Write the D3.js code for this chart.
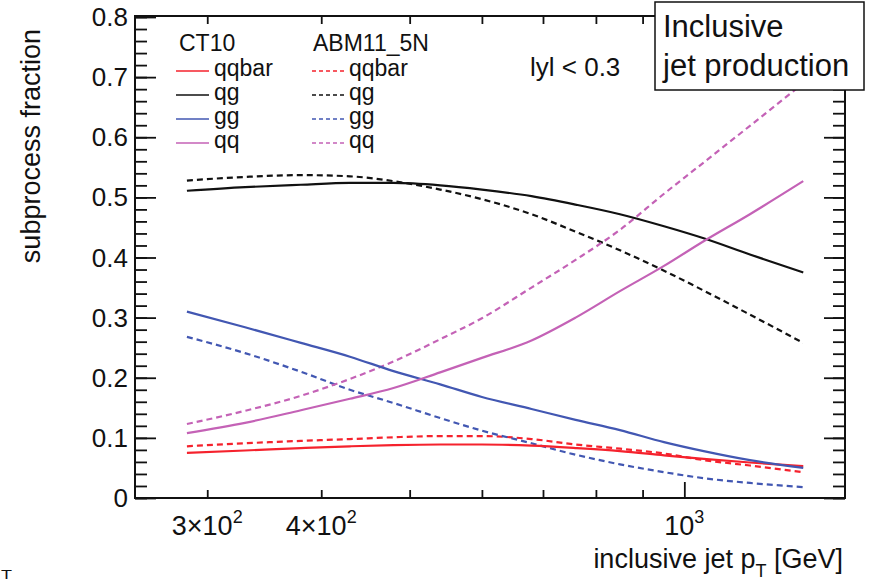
<!doctype html>
<html>
  <head>
    <script src="https://d3js.org/d3.v7.min.js"></script>
    <style>
      body { margin: 0; background: white; }
      text { font-family: "Liberation Sans", Arial, sans-serif; fill: #111; }
    </style>
  </head>

  <body onload='init()'>
    <svg class="chart" width=870 height=584></svg>

    <script>
        // transverse momentum grid (GeV)
        var ptGeV = [285, 330, 380, 430, 480, 540, 600, 680, 760, 850, 950, 1050, 1180, 1350];

        // CT10 (solid)
        var ct10Qqbar = [0.075, 0.079, 0.083, 0.086, 0.088, 0.089, 0.089, 0.087, 0.083, 0.078, 0.071, 0.065, 0.059, 0.053];
        var ct10Qg    = [0.511, 0.517, 0.521, 0.524, 0.524, 0.520, 0.513, 0.502, 0.488, 0.472, 0.452, 0.432, 0.405, 0.375];
        var ct10Gg    = [0.310, 0.284, 0.258, 0.235, 0.211, 0.189, 0.168, 0.148, 0.130, 0.113, 0.093, 0.078, 0.063, 0.050];
        var ct10Qq    = [0.108, 0.125, 0.146, 0.165, 0.183, 0.209, 0.233, 0.262, 0.300, 0.344, 0.386, 0.427, 0.472, 0.527];

        // ABM11_5N (dashed)
        var abmQqbar = [0.086, 0.091, 0.095, 0.098, 0.101, 0.103, 0.103, 0.098, 0.089, 0.082, 0.074, 0.063, 0.054, 0.043];
        var abmQg    = [0.528, 0.534, 0.537, 0.535, 0.527, 0.513, 0.497, 0.472, 0.443, 0.412, 0.378, 0.345, 0.305, 0.258];
        var abmGg    = [0.268, 0.241, 0.210, 0.180, 0.158, 0.133, 0.112, 0.091, 0.072, 0.056, 0.043, 0.033, 0.025, 0.018];
        var abmQq    = [0.123, 0.145, 0.170, 0.198, 0.227, 0.264, 0.299, 0.350, 0.396, 0.446, 0.506, 0.558, 0.619, 0.690];

        var channels = ["qqbar", "qg", "gg", "qq"];
        var channelColors = ["#f5222d", "#111111", "#4257b2", "#c462b6"];

        // axis ticks
        var yMajorTicks = [0, 0.1, 0.2, 0.3, 0.4, 0.5, 0.6, 0.7, 0.8];
        var yTickLabels = ["0", "0.1", "0.2", "0.3", "0.4", "0.5", "0.6", "0.7", "0.8"];
        var xMinorTicks = [300, 400, 500, 600, 700, 800, 900];
        var xMajorTicks = [1000];
        var xLabelValues = [300, 400, 1000];
        var xLabelBase = ["3\u00d710", "4\u00d710", "10"];
        var xLabelExp = ["2", "2", "3"];

        function init() {
            var svg = d3.select("svg");
            svg.selectAll("*").remove();

            var left = 135, right = 845, top = 16, bottom = 498;
            var xScale = d3.scaleLog().domain([250, 1500]).range([left, right]);
            var yScale = d3.scaleLinear().domain([0, 0.8]).range([bottom, top + 1]);

            svg.append("clipPath").attr("id", "frame-clip")
                .append("rect").attr("x", left).attr("y", top)
                .attr("width", right - left).attr("height", bottom - top);

            // curves
            var line = function(vals) {
                return d3.line()
                    .x(function(d, i){ return xScale(ptGeV[i]); })
                    .y(function(d){ return yScale(d); })
                    .curve(d3.curveMonotoneX)(vals);
            };
            var curves = svg.append("g").attr("clip-path", "url(#frame-clip)");
            var ct10 = [ct10Qqbar, ct10Qg, ct10Gg, ct10Qq];
            var abm = [abmQqbar, abmQg, abmGg, abmQq];
            abm.forEach(function(vals, i) {
                curves.append("path").attr("d", line(vals))
                    .attr("fill", "none").attr("stroke", channelColors[i])
                    .attr("stroke-width", 2.2).attr("stroke-dasharray", "6,4");
            });
            ct10.forEach(function(vals, i) {
                curves.append("path").attr("d", line(vals))
                    .attr("fill", "none").attr("stroke", channelColors[i])
                    .attr("stroke-width", 2.2);
            });

            // y axis, left and right
            svg.append("g").attr("transform", "translate(" + left + ",0)")
                .call(d3.axisRight(yScale).tickValues(yMajorTicks).tickSize(21).tickFormat(""));
            svg.append("g").attr("transform", "translate(" + left + ",0)")
                .call(d3.axisRight(yScale).ticks(40).tickSize(12).tickFormat(""));
            svg.append("g").attr("transform", "translate(" + right + ",0)")
                .call(d3.axisLeft(yScale).tickValues(yMajorTicks).tickSize(21).tickFormat(""));
            svg.append("g").attr("transform", "translate(" + right + ",0)")
                .call(d3.axisLeft(yScale).ticks(40).tickSize(12).tickFormat(""));

            // x axis, bottom and top
            svg.append("g").attr("transform", "translate(0," + bottom + ")")
                .call(d3.axisTop(xScale).tickValues(xMinorTicks).tickSize(8).tickFormat(""));
            svg.append("g").attr("transform", "translate(0," + bottom + ")")
                .call(d3.axisTop(xScale).tickValues(xMajorTicks).tickSize(16).tickFormat(""));
            svg.append("g").attr("transform", "translate(0," + top + ")")
                .call(d3.axisBottom(xScale).tickValues(xMinorTicks).tickSize(8).tickFormat(""));
            svg.append("g").attr("transform", "translate(0," + top + ")")
                .call(d3.axisBottom(xScale).tickValues(xMajorTicks).tickSize(16).tickFormat(""));

            svg.selectAll(".domain").remove();
            svg.selectAll(".tick line").attr("stroke", "#111").attr("stroke-width", 1.8);

            // frame
            svg.append("rect").attr("x", left).attr("y", top)
                .attr("width", right - left).attr("height", bottom - top)
                .attr("fill", "none").attr("stroke", "#111").attr("stroke-width", 2);

            // y tick labels
            svg.selectAll(".ylab").data(yMajorTicks).enter().append("text")
                .attr("class", "ylab")
                .attr("x", left - 7)
                .attr("y", function(d){ return yScale(d) + 9; })
                .attr("text-anchor", "end")
                .style("font-size", "26px")
                .text(function(d, i){ return yTickLabels[i]; });

            // x tick labels with superscripts
            xLabelValues.forEach(function(v, i) {
                var t = svg.append("text")
                    .attr("x", xScale(v)).attr("y", 535)
                    .attr("text-anchor", "middle")
                    .style("font-size", "27px");
                t.append("tspan").text(xLabelBase[i]);
                t.append("tspan").attr("dy", -12).style("font-size", "18px").text(xLabelExp[i]);
            });

            // axis titles
            svg.append("text")
                .attr("transform", "translate(40,29) rotate(-90)")
                .attr("text-anchor", "end")
                .style("font-size", "27px")
                .text("subprocess fraction");

            var xt = svg.append("text")
                .attr("x", right - 2).attr("y", 568)
                .attr("text-anchor", "end")
                .style("font-size", "27px");
            xt.append("tspan").text("inclusive jet p");
            xt.append("tspan").attr("dy", 9).style("font-size", "18px").text("T");
            xt.append("tspan").attr("dy", -9).text(" [GeV]");

            // legend
            var legend = svg.append("g").style("font-size", "23px");
            var rowY = [71, 95, 119, 143];
            legend.append("text").attr("x", 179).attr("y", 51).text("CT10");
            legend.append("text").attr("x", 313).attr("y", 51).text("ABM11_5N");
            channels.forEach(function(c, i) {
                legend.append("line").attr("x1", 176).attr("x2", 209)
                    .attr("y1", rowY[i]).attr("y2", rowY[i])
                    .attr("stroke", channelColors[i]).attr("stroke-width", 1.6);
                legend.append("text").attr("x", 214).attr("y", rowY[i] + 5).text(c);
                legend.append("line").attr("x1", 312).attr("x2", 344)
                    .attr("y1", rowY[i]).attr("y2", rowY[i])
                    .attr("stroke", channelColors[i]).attr("stroke-width", 1.6)
                    .attr("stroke-dasharray", "4,3");
                legend.append("text").attr("x", 349).attr("y", rowY[i] + 5).text(c);
            });

            svg.append("text").attr("x", 530).attr("y", 76)
                .style("font-size", "26px").text("lyl < 0.3");

            // label box
            svg.append("rect").attr("x", 655).attr("y", 2)
                .attr("width", 209).attr("height", 88)
                .attr("fill", "white").attr("stroke", "#111").attr("stroke-width", 1.5);
            svg.append("text").attr("x", 663).attr("y", 37)
                .style("font-size", "31px").text("Inclusive");
            svg.append("text").attr("x", 663).attr("y", 76)
                .style("font-size", "31px").text("jet production");

            // stray glyph at the lower-left corner
            svg.append("text").attr("x", 1).attr("y", 579)
                .attr("textLength", 11).attr("lengthAdjust", "spacingAndGlyphs")
                .style("font-size", "12px").text("T");
        }
    </script>
  </body>
</html>
